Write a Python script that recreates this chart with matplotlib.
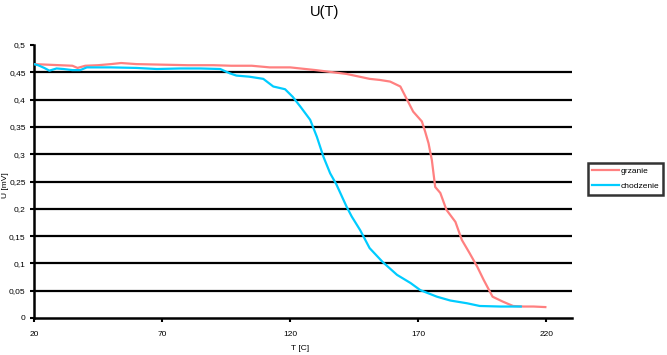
import matplotlib
matplotlib.use("Agg")
import matplotlib.pyplot as plt
from matplotlib.ticker import FuncFormatter

plt.rcParams['font.family'] = ['Liberation Sans', 'DejaVu Sans']

title = "U(T)"
x_label = "T [C]"
y_label = "U [mV]"
series_names = ["grzanie", "chodzenie"]

t_grzanie = [20, 25, 30, 35, 37, 40, 45, 50, 54, 60, 70, 80, 90, 97, 105, 112, 120, 130,
             142, 151, 155, 159, 163, 165.6, 168, 171.4, 172.7, 174, 175.3, 176.6, 178.6,
             181, 184.5, 187, 190, 193, 195.5, 199, 203, 207, 211, 215, 219.6]
u_grzanie = [0.465, 0.464, 0.463, 0.462, 0.458, 0.462, 0.463, 0.465, 0.467, 0.465, 0.464,
             0.463, 0.463, 0.462, 0.462, 0.459, 0.459, 0.454, 0.447, 0.438, 0.436, 0.433,
             0.424, 0.400, 0.378, 0.360, 0.341, 0.320, 0.289, 0.240, 0.229, 0.198, 0.176,
             0.143, 0.119, 0.094, 0.070, 0.039, 0.030, 0.022, 0.021, 0.021, 0.020]

t_chodzenie = [20, 21.6, 24, 26, 28.8, 31.5, 35, 38, 40.6, 44.5, 50, 60, 68, 77, 85, 92.7,
               96.5, 99, 104, 109.5, 113.4, 118, 121, 124, 127.8, 130.4, 133, 135.6, 138,
               142, 144, 147.3, 151, 156, 161.7, 167, 170.8, 177.3, 182.5, 189, 194, 202, 210]
u_chodzenie = [0.465, 0.463, 0.458, 0.453, 0.457, 0.456, 0.454, 0.454, 0.459, 0.459, 0.459,
               0.458, 0.456, 0.457, 0.457, 0.456, 0.448, 0.444, 0.442, 0.438, 0.424, 0.419,
               0.405, 0.387, 0.363, 0.332, 0.295, 0.265, 0.245, 0.204, 0.186, 0.161, 0.128,
               0.103, 0.079, 0.064, 0.051, 0.039, 0.032, 0.027, 0.022, 0.021, 0.021]

x_ticks = [20, 70, 120, 170, 220]
y_ticks = [0, 0.05, 0.1, 0.15, 0.2, 0.25, 0.3, 0.35, 0.4, 0.45, 0.5]

fig = plt.figure(figsize=(6.67, 3.55), dpi=100)
ax = fig.add_axes([34/667, 1-318/355, (572-34)/667, (318-45)/355])

ax.set_xlim(20, 230)
ax.set_ylim(0, 0.5)

for y in y_ticks[1:-1]:
    ax.axhline(y, color='black', lw=1.6, zorder=1)

l1, = ax.plot(t_grzanie, u_grzanie, color='#FF8080', lw=1.6, zorder=3)
l2, = ax.plot(t_chodzenie, u_chodzenie, color='#00CCFF', lw=1.6, zorder=3)

for s in ['top', 'right']:
    ax.spines[s].set_visible(False)
for s in ['left', 'bottom']:
    ax.spines[s].set_linewidth(1.8)
    ax.spines[s].set_color('black')

ax.set_xticks(x_ticks)
ax.set_yticks(y_ticks)
ax.yaxis.set_major_formatter(FuncFormatter(lambda v, p: ('%g' % v).replace('.', ',')))
ax.tick_params(axis='both', direction='out', length=3, width=1.5, labelsize=6, pad=3)
ax.tick_params(axis='x', pad=6)

fig.text(325/667, 1-12/355, title, ha='center', va='center', fontsize=10.5)
fig.text(300/667, 1-349/355, x_label, ha='center', va='center', fontsize=6)
fig.text(6/667, 1-185/355, y_label, ha='center', va='center', fontsize=6, rotation=90)

leg = fig.legend([l1, l2], series_names, loc='upper left',
                 bbox_to_anchor=(588/667, 1-163/355), fontsize=6, frameon=True,
                 fancybox=False, edgecolor='black', handlelength=3.2, handletextpad=0.2,
                 borderpad=0.5, labelspacing=0.9, borderaxespad=0)
leg.get_frame().set_linewidth(1.8)

fig.savefig("out.png", dpi=100)
